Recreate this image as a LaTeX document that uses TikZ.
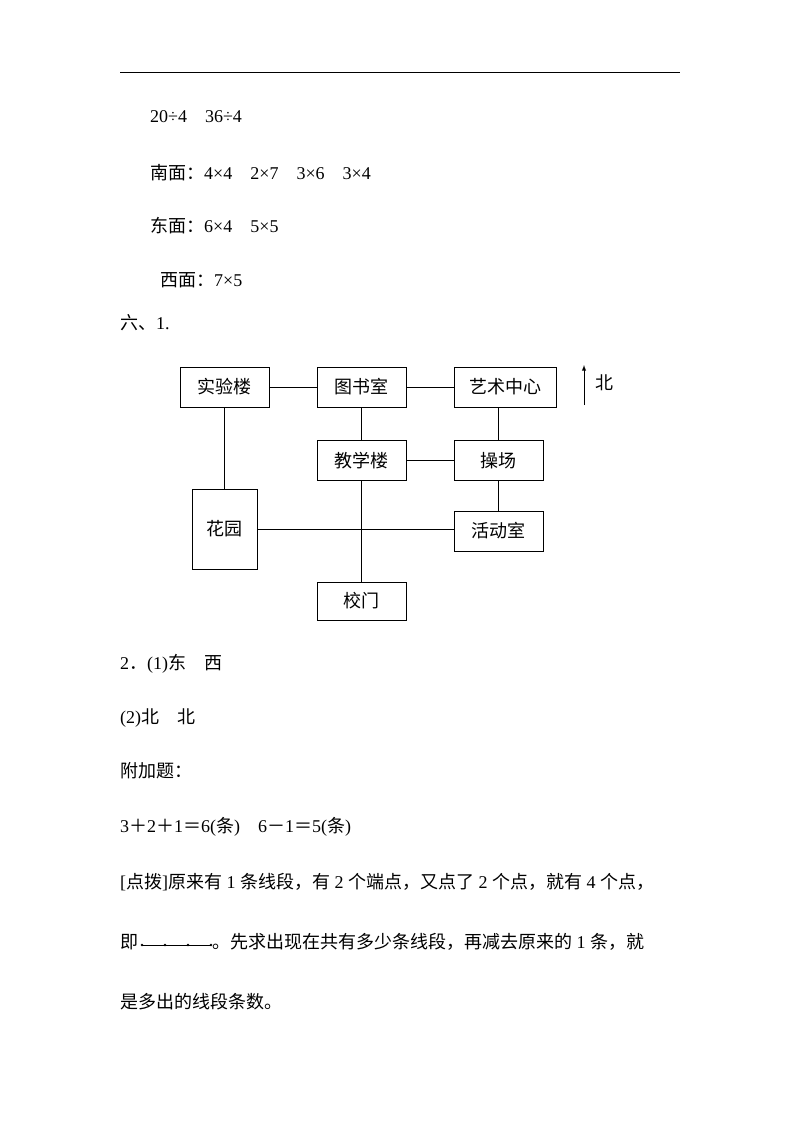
\documentclass[tikz,border=0pt]{standalone}
\usepackage{fontspec}
\setmainfont{Liberation Serif}
\newfontfamily\cjk{Noto Sans CJK SC}
\begin{document}
\begin{tikzpicture}[x=1pt,y=-1pt,
  box/.style={draw,line width=1pt,minimum width=89pt,minimum height=40pt,inner sep=0pt,font=\cjk\fontsize{18}{21}\selectfont},
  txt/.style={anchor=west,inner sep=0pt,font=\fontsize{18}{21}\selectfont},
  ln/.style={line width=0.9pt}]
\useasboundingbox[fill=white] (0,0) rectangle (800,1132);
\draw[ln] (120,72) -- (680,72);
\node[txt] (l1) at (150,117) {20÷4\quad 36÷4};
\node[txt] (l2) at (150,173) {{\cjk 南面：}4×4\quad 2×7\quad 3×6\quad 3×4};
\node[txt] (l3) at (150,226) {{\cjk 东面：}6×4\quad 5×5};
\node[txt] (l4) at (160,280) {{\cjk 西面：}7×5};
\node[txt] (l5) at (120,323) {{\cjk 六、}1.};
% diagram
\node[box] (sy) at (224.5,387) {实验楼};
\node[box] (ts) at (361.5,387) {图书室};
\node[box,minimum width=102pt] (ys) at (505,387) {艺术中心};
\node[box] (jx) at (361.5,460.5) {教学楼};
\node[box] (cc) at (498.5,460.5) {操场};
\node[box,minimum width=65pt,minimum height=80pt] (hy) at (224.5,529) {花园};
\node[box] (hd) at (498.5,531) {活动室};
\node[box,minimum height=38pt] (xm) at (361.5,601) {校门};
\draw[ln] (sy) -- (ts);
\draw[ln] (ts) -- (ys);
\draw[ln] (ts) -- (jx);
\draw[ln] (ys.south -| cc) -- (cc);
\draw[ln] (jx) -- (cc);
\draw[ln] (cc) -- (hd);
\draw[ln] (sy) -- (hy);
\draw[ln] (hy.east) -- (hd.west |- hy.east);
\draw[ln] (jx) -- (xm);
\coordinate (na) at (584,405);
\coordinate (nb) at (584,365);
\draw[ln,-latex] (na) -- (nb);
\node[inner sep=0pt,font=\cjk\fontsize{18}{21}\selectfont] (bei) at (604,383) {北};
% text below
\node[txt] (m1) at (120,664) {2{\cjk ．}(1){\cjk 东}\quad{\cjk 西}};
\node[txt] (m2) at (120,718) {(2){\cjk 北}\quad{\cjk 北}};
\node[txt] (m3) at (120,771) {\cjk 附加题：};
\node[txt] (m4) at (120,827) {3{\cjk ＋}2{\cjk ＋}1{\cjk ＝}6({\cjk 条})\quad 6{\cjk －}1{\cjk ＝}5({\cjk 条})};
\node[txt] (m5) at (120,882) {[{\cjk 点拨}]{\cjk 原来有} 1 {\cjk 条线段，有} 2 {\cjk 个端点，又点了} 2 {\cjk 个点，就有} 4 {\cjk 个点，}};
\node[txt] (m6a) at (120,942) {\cjk 即};
\coordinate (d1) at (142,945);
\coordinate (d2) at (165,945);
\coordinate (d3) at (188,945);
\coordinate (d4) at (211,945);
\draw[line width=0.6pt] (d1) -- (d4);
\foreach \p in {d1,d2,d3,d4} \fill (\p) circle (1.3);
\node[txt] (m6b) at (212,942) {{\cjk 。先求出现在共有多少条线段，再减去原来的} 1 {\cjk 条，就}};
\node[txt] (m7) at (120,1002) {\cjk 是多出的线段条数。};
\end{tikzpicture}
\end{document}
